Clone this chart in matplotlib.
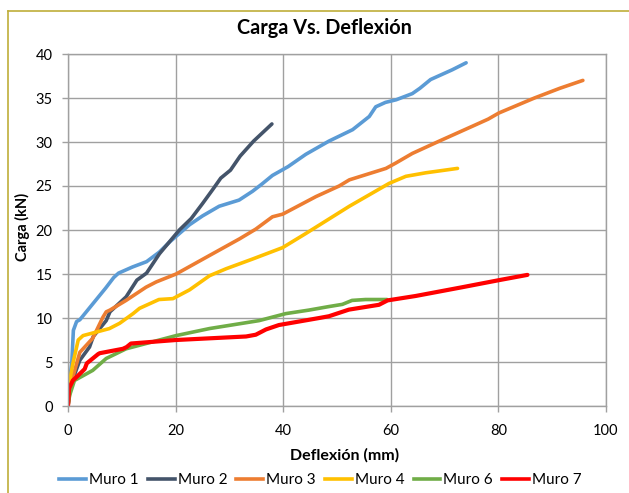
import matplotlib
matplotlib.use("Agg")
import matplotlib.pyplot as plt
from matplotlib.lines import Line2D

plt.rcParams['font.family'] = ['Lato', 'DejaVu Sans']

# Muro 1
m1_x = [0, 0.3, 0.7, 1.0, 1.6, 2.2, 4.6, 7.0, 8.5, 9.4, 12, 14.6, 17.0, 19.0, 22.6, 25.0, 28.1,
        31.8, 34.3, 36.0, 38.0, 40.9, 44.2, 48.5, 52.9, 56.0, 57.2, 59.0, 61.0, 64.0, 65.4, 67.4, 71.4, 74.0]
m1_y = [0, 3.0, 4.85, 8.6, 9.6, 9.8, 11.6, 13.4, 14.6, 15.1, 15.8, 16.4, 17.5, 18.7, 20.6, 21.6, 22.7,
        23.4, 24.4, 25.2, 26.2, 27.2, 28.6, 30.1, 31.4, 32.9, 34.0, 34.5, 34.8, 35.5, 36.1, 37.1, 38.2, 39.0]
# Muro 2
m2_x = [0, 0.37, 0.6, 1.5, 2.2, 4.0, 4.7, 7.1, 7.8, 10.8, 12.8, 14.6, 17.0, 19.6, 20.7, 22.9, 25.0,
        26.9, 28.4, 30.2, 32.0, 34.5, 37.9]
m2_y = [0, 2.2, 2.5, 4.05, 5.2, 6.7, 7.9, 9.7, 10.7, 12.4, 14.3, 15.1, 17.3, 19.2, 20.0, 21.3, 23.0,
        24.6, 25.9, 26.8, 28.4, 30.1, 32.05]
# Muro 3
m3_x = [0, 0.4, 0.9, 2.2, 4.6, 6.5, 7.1, 7.8, 10.8, 14.5, 16.4, 20.1, 25.7, 31.9, 34.9, 38.0, 39.9,
        46.1, 50.4, 52.3, 59.1, 60.9, 64.0, 69.0, 75.2, 78.1, 80.1, 86.7, 91.4, 95.7]
m3_y = [0, 1.8, 3.3, 6.1, 7.7, 10.1, 10.7, 10.9, 12.0, 13.5, 14.1, 15.0, 16.9, 19.0, 20.1, 21.5, 21.8,
        23.8, 25.0, 25.7, 27.0, 27.6, 28.7, 30.1, 31.8, 32.6, 33.3, 35.0, 36.1, 37.0]
# Muro 4
m4_x = [0, 0.0, 0.9, 1.9, 2.8, 7.7, 9.6, 12.1, 13.3, 16.9, 19.5, 22.6, 26.3, 29.4, 34.3, 39.9,
        44.2, 52.3, 59.7, 62.8, 66.5, 72.4]
m4_y = [0, 1.8, 4.8, 7.5, 8.0, 8.8, 9.4, 10.5, 11.1, 12.1, 12.2, 13.2, 14.8, 15.6, 16.7, 18.0,
        19.6, 22.7, 25.3, 26.1, 26.5, 27.0]
# Muro 6
m6_x = [0, 0.3, 1.2, 4.6, 7.1, 10.8, 17.0, 20.1, 26.3, 35.5, 40.5, 44.8, 48.5, 51.0, 52.8, 55.3, 59.3]
m6_y = [0, 1.2, 2.9, 4.05, 5.4, 6.5, 7.5, 8.0, 8.8, 9.7, 10.5, 10.9, 11.3, 11.55, 12.0, 12.1, 12.1]
# Muro 7
m7_x = [0, 0.2, 0.9, 1.6, 3.1, 3.5, 5.6, 5.9, 10.2, 10.9, 11.7, 20.1, 33.1, 34.9, 36.8, 39.2, 46.7,
        48.5, 52.2, 57.8, 59.4, 64.6, 73.3, 80.1, 85.4]
m7_y = [0, 2.0, 2.9, 3.3, 4.2, 4.85, 5.9, 6.0, 6.5, 6.7, 7.1, 7.5, 7.9, 8.1, 8.7, 9.2, 10.0,
        10.2, 10.95, 11.5, 12.0, 12.5, 13.5, 14.3, 14.9]

series = [
    ("Muro 1", m1_x, m1_y, "#5B9BD5", 2.6),
    ("Muro 2", m2_x, m2_y, "#44546A", 2.6),
    ("Muro 3", m3_x, m3_y, "#ED7D31", 2.6),
    ("Muro 4", m4_x, m4_y, "#FFC000", 2.6),
    ("Muro 6", m6_x, m6_y, "#70AD47", 2.6),
    ("Muro 7", m7_x, m7_y, "#FF0000", 3.0),
]

W, H = 629, 493
fig = plt.figure(figsize=(W / 100, H / 100), dpi=100)
ax = fig.add_axes([68/W, 1 - 406/H, (606-68)/W, (406-54)/H])

for name, xs, ys, c, lw in series:
    ax.plot(xs, ys, color=c, lw=lw, label=name, solid_capstyle='round', solid_joinstyle='round')

ax.set_xlim(0, 100)
ax.set_ylim(0, 40)
ax.set_xticks(range(0, 101, 20))
ax.set_yticks(range(0, 41, 5))
ax.grid(True, color="#A0A0A0", lw=1.0)
ax.set_axisbelow(True)
for s in ax.spines.values():
    s.set_color("#A0A0A0")
    s.set_linewidth(1.0)
ax.tick_params(axis='both', colors="#A0A0A0", labelcolor="#000000", labelsize=10.5, length=4, width=1)
ax.tick_params(axis='x', pad=9)
ax.tick_params(axis='y', pad=7)

fig.text(324/W, 1 - 28/H, "Carga Vs. Deflexión", fontsize=14.3, fontweight='bold', ha='center', va='center')
fig.text(345/W, 1 - 455/H, "Deflexión (mm)", fontsize=11.5, fontweight='bold', ha='center', va='center')
fig.text(22.5/W, 1 - 227/H, "Carga (kN)", fontsize=10.5, fontweight='bold', ha='center', va='center',
         rotation=90)

handles = [Line2D([0], [0], color=c, lw=2.6) for _, _, _, c, _ in series]
fig.legend(handles, [s[0] for s in series], loc='center', bbox_to_anchor=(320.5/W, 1 - 480/H),
           ncol=6, frameon=False, fontsize=11, handlelength=1.75, handletextpad=0.2,
           columnspacing=0.6, borderaxespad=0, borderpad=0)

border = "#BFAE3A"
fig.add_artist(Line2D([8/W, 8/W], [0, 1 - 11/H], transform=fig.transFigure, color=border, lw=1.2))
fig.add_artist(Line2D([8/W, 1], [1 - 11/H, 1 - 11/H], transform=fig.transFigure, color=border, lw=1.2))

fig.savefig("out.png", dpi=100)
